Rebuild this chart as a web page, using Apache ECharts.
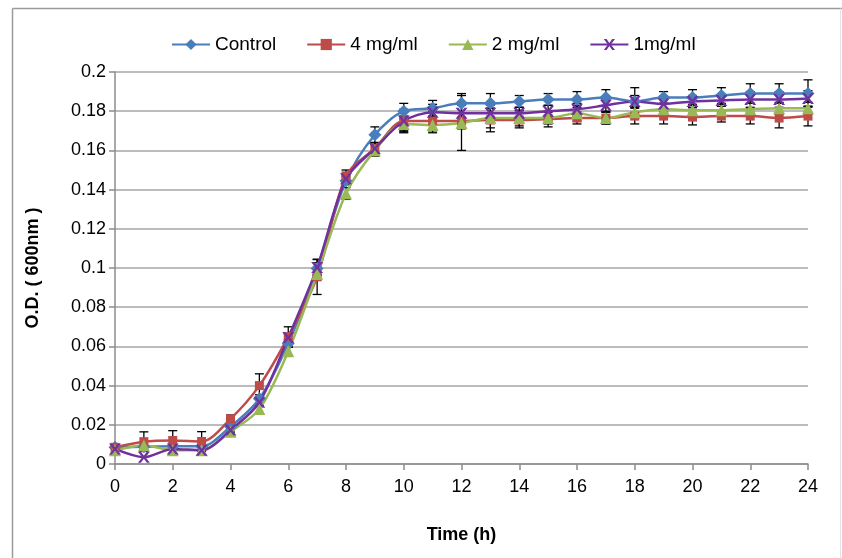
<!DOCTYPE html>
<html>
<head>
<meta charset="utf-8">
<script src="https://cdn.jsdelivr.net/npm/echarts@6/dist/echarts.min.js"></script>
<style>html,body{margin:0;padding:0;background:#fff}#c{width:842px;height:558px}</style>
</head>
<body>
<div id="c"></div>
<script>
const hours = [0,1,2,3,4,5,6,7,8,9,10,11,12,13,14,15,16,17,18,19,20,21,22,23,24];
const seriesNames = ['Control','4 mg/ml','2 mg/ml','1mg/ml'];
const control = [0.0085,0.0088,0.009,0.009,0.019,0.0333,0.0615,0.0997,0.1445,0.168,0.180,0.1815,0.184,0.184,0.185,0.186,0.186,0.187,0.185,0.187,0.187,0.188,0.189,0.189,0.189];
const mg4 = [0.0085,0.0114,0.012,0.0115,0.023,0.040,0.065,0.0955,0.147,0.161,0.175,0.175,0.175,0.1755,0.1755,0.176,0.1765,0.1765,0.1775,0.1775,0.177,0.1775,0.1775,0.1765,0.1775];
const mg2 = [0.007,0.0095,0.007,0.007,0.0165,0.028,0.0575,0.097,0.138,0.160,0.1735,0.173,0.174,0.1765,0.1765,0.1765,0.179,0.1765,0.1795,0.181,0.1805,0.1805,0.181,0.1815,0.1815];
const mg1 = [0.0077,0.0035,0.0077,0.007,0.0173,0.0315,0.0645,0.1003,0.1455,0.161,0.175,0.1795,0.179,0.179,0.179,0.180,0.181,0.183,0.185,0.1837,0.185,0.1855,0.186,0.186,0.1865];
const controlErr = [0,0,0,0,0.001,0.002,0.002,0.003,0.002,0.004,0.004,0.004,0.005,0.005,0.003,0.003,0.004,0.004,0.003,0.003,0.004,0.004,0.005,0.005,0.007];
const mg4Err = [0,0.005,0.005,0.005,0.002,0.006,0.005,0.009,0.003,0.003,0.006,0.005,0.004,0.006,0.004,0.004,0.003,0.003,0.004,0.004,0.004,0.003,0.004,0.005,0.005];
const mg2Err = [0,0,0,0,0.001,0.002,0.002,0.003,0.003,0.003,0.004,0.004,0.014,0.005,0.004,0.003,0.004,0.003,0.003,0.003,0.003,0.003,0.003,0.003,0.003];
const mg1Err = [0,0,0,0,0.001,0.002,0.002,0.004,0.002,0.003,0.005,0.004,0.004,0.004,0.003,0.003,0.003,0.003,0.007,0.004,0.003,0.003,0.004,0.004,0.004];
const yTicks = [0,0.02,0.04,0.06,0.08,0.1,0.12,0.14,0.16,0.18,0.2];

const colors = ['#4A7EBB','#BE4B48','#98B954','#7030A0'];
const symbols = ['diamond','rect','triangle','path://M0,0 L3,0 L6,3.6 L9,0 L12,0 L7.6,5 L12,10 L9,10 L6,6.4 L3,10 L0,10 L4.4,5 Z'];
const symSizes = [13,9,12,[12,11]];
const values = [control, mg4, mg2, mg1];
const errs = [controlErr, mg4Err, mg2Err, mg1Err];
const FONT = 'Liberation Sans, Arial, sans-serif';

const series = [];
values.forEach((vals, i) => {
  series.push({
    type: 'custom',
    name: seriesNames[i] + ' err',
    silent: true,
    z: 1,
    data: hours.map((h, k) => [h, vals[k] - errs[i][k], vals[k] + errs[i][k]]).filter((d, k) => errs[i][k] > 0),
    renderItem: function (params, api) {
      const x = api.value(0);
      const lo = api.coord([x, api.value(1)]);
      const hi = api.coord([x, api.value(2)]);
      const w = 4.5;
      const style = { stroke: '#000', lineWidth: 1.3 };
      return {
        type: 'group',
        children: [
          { type: 'line', shape: { x1: lo[0], y1: lo[1], x2: hi[0], y2: hi[1] }, style },
          { type: 'line', shape: { x1: lo[0] - w, y1: lo[1], x2: lo[0] + w, y2: lo[1] }, style },
          { type: 'line', shape: { x1: hi[0] - w, y1: hi[1], x2: hi[0] + w, y2: hi[1] }, style }
        ]
      };
    }
  });
});
values.forEach((vals, i) => {
  series.push({
    type: 'line',
    name: seriesNames[i],
    data: hours.map((h, k) => [h, vals[k]]),
    smooth: 0.3,
    symbol: symbols[i],
    symbolSize: symSizes[i],
    showAllSymbol: true,
    z: 3,
    lineStyle: { color: colors[i], width: 2.5 },
    itemStyle: { color: colors[i], borderWidth: 0 }
  });
});

const chart = echarts.init(document.getElementById('c'), null, { renderer: 'canvas' });
chart.setOption({
  animation: false,
  backgroundColor: '#fff',
  textStyle: { fontFamily: FONT },
  legend: {
    data: seriesNames,
    top: 30,
    left: 166,
    itemWidth: 38,
    itemHeight: 14,
    itemGap: 30,
    textStyle: { fontSize: 19, color: '#000', fontFamily: FONT }
  },
  grid: { left: 115, right: 34, top: 72, bottom: 94, containLabel: false },
  xAxis: {
    type: 'value',
    min: 0, max: 24, interval: 2,
    name: 'Time (h)',
    nameLocation: 'middle',
    nameGap: 62,
    nameTextStyle: { fontSize: 18, fontWeight: 'bold', color: '#000', fontFamily: FONT },
    axisLine: { lineStyle: { color: '#8c8c8c', width: 1.5 } },
    axisTick: { show: true, length: 6, lineStyle: { color: '#8c8c8c', width: 1.5 } },
    axisLabel: { fontSize: 18, color: '#000', margin: 14, fontFamily: FONT },
    splitLine: { show: false }
  },
  yAxis: {
    type: 'value',
    min: 0, max: 0.2, interval: 0.02,
    name: 'O.D. ( 600nm )',
    nameLocation: 'middle',
    nameGap: 73,
    nameRotate: 90,
    nameTextStyle: { fontSize: 18, fontWeight: 'bold', color: '#000', fontFamily: FONT },
    axisLine: { show: true, lineStyle: { color: '#8c8c8c', width: 1.5 } },
    axisTick: { show: true, length: 6, lineStyle: { color: '#8c8c8c', width: 1.5 } },
    axisLabel: { fontSize: 18, color: '#000', margin: 9, fontFamily: FONT, formatter: v => { const t = yTicks.find(x => Math.abs(x - v) < 1e-9); return String(t !== undefined ? t : v); } },
    splitLine: { show: true, lineStyle: { color: '#a6a6a6', width: 1.5 } }
  },
  graphic: [
    { type: 'line', shape: { x1: 12.5, y1: 8.5, x2: 12.5, y2: 558 }, style: { stroke: '#9a9a9a', lineWidth: 1.5 } },
    { type: 'line', shape: { x1: 12.5, y1: 8.5, x2: 842, y2: 8.5 }, style: { stroke: '#9a9a9a', lineWidth: 1.5 } },
    { type: 'line', shape: { x1: 840.5, y1: 8.5, x2: 840.5, y2: 558 }, style: { stroke: '#e4e4e4', lineWidth: 1 } }
  ],
  series: series
});
</script>
</body>
</html>
